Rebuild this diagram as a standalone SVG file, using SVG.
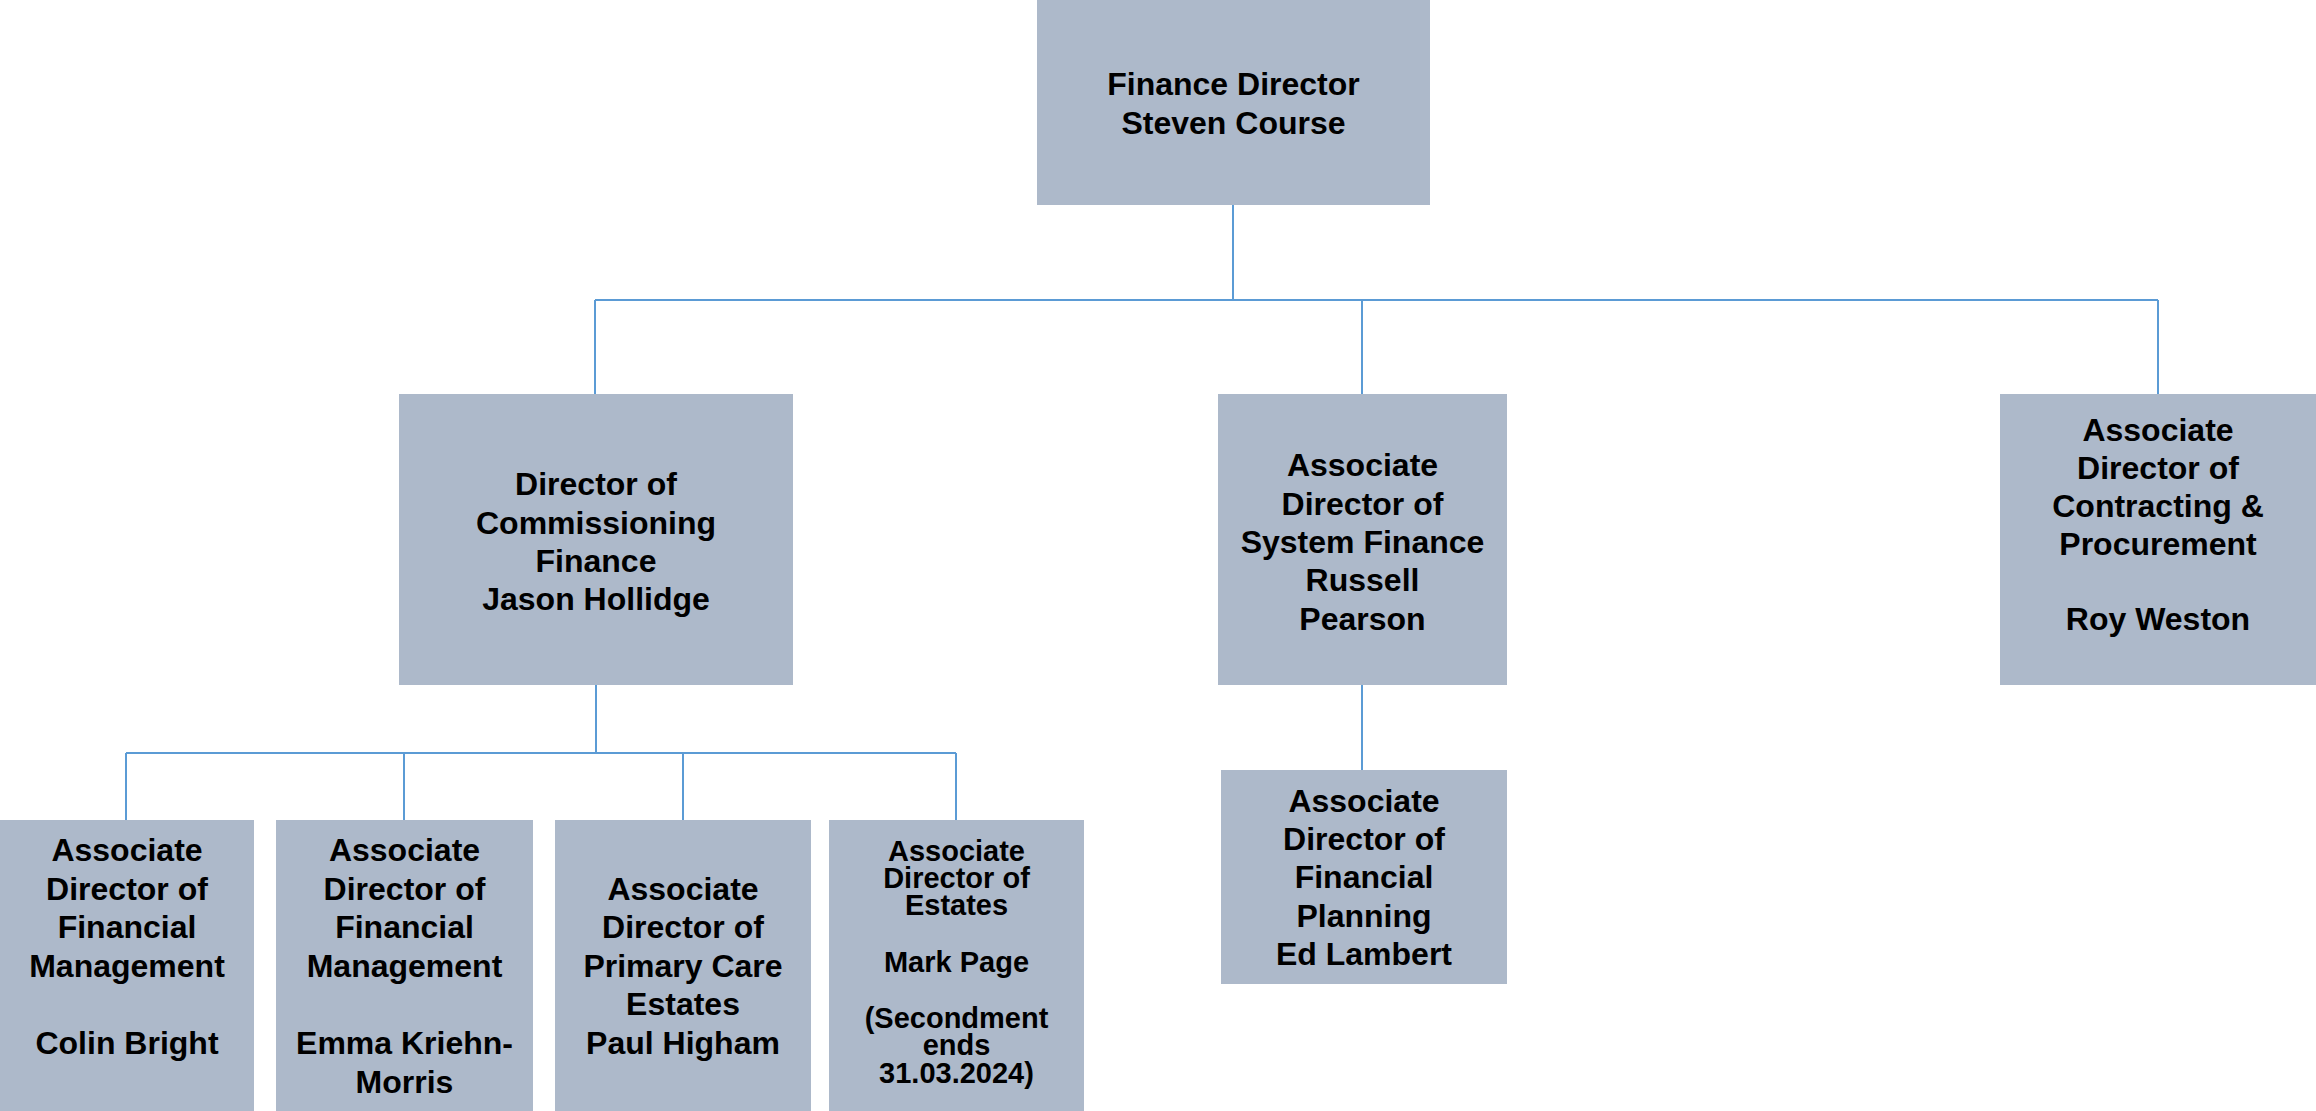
<svg xmlns="http://www.w3.org/2000/svg" width="2316" height="1111" viewBox="0 0 2316 1111">
<style>
.box{fill:#ADB9CA;}
.t{font-family:"Liberation Sans",Arial,sans-serif;font-weight:bold;font-size:32px;fill:#000;text-anchor:middle;}
.s{font-size:29px;}
.c{fill:none;stroke:#5B9BD5;stroke-width:2;}
</style>
<rect width="2316" height="1111" fill="#fff"/>
<g id="connectors">
<path class="c" d="M1233,205V300M595,300H2158M595,300V394M1362,300V394M2158,300V394"/>
<path class="c" d="M596,685V753M126,753H956M126,753V820M404,753V820M683,753V820M956,753V820"/>
<path class="c" d="M1362,685V770"/>
</g>
<g id="finance-director">
<rect class="box" x="1037" y="0" width="393" height="205"/>
<text class="t" x="1233.5" y="95">Finance Director</text>
<text class="t" x="1233.5" y="134">Steven Course</text>
</g>
<g id="commissioning-finance">
<rect class="box" x="399" y="394" width="394" height="291"/>
<text class="t" x="596" y="495">Director of</text>
<text class="t" x="596" y="534">Commissioning</text>
<text class="t" x="596" y="572">Finance</text>
<text class="t" x="596" y="610">Jason Hollidge</text>
</g>
<g id="system-finance">
<rect class="box" x="1218" y="394" width="289" height="291"/>
<text class="t" x="1362.5" y="476">Associate</text>
<text class="t" x="1362.5" y="515">Director of</text>
<text class="t" x="1362.5" y="553">System Finance</text>
<text class="t" x="1362.5" y="591">Russell</text>
<text class="t" x="1362.5" y="630">Pearson</text>
</g>
<g id="contracting">
<rect class="box" x="2000" y="394" width="316" height="291"/>
<text class="t" x="2158" y="441">Associate</text>
<text class="t" x="2158" y="479">Director of</text>
<text class="t" x="2158" y="517">Contracting &amp;</text>
<text class="t" x="2158" y="555">Procurement</text>
<text class="t" x="2158" y="630">Roy Weston</text>
</g>
<g id="financial-planning">
<rect class="box" x="1221" y="770" width="286" height="214"/>
<text class="t" x="1364" y="812">Associate</text>
<text class="t" x="1364" y="850">Director of</text>
<text class="t" x="1364" y="888">Financial</text>
<text class="t" x="1364" y="927">Planning</text>
<text class="t" x="1364" y="965">Ed Lambert</text>
</g>
<g id="colin-bright">
<rect class="box" x="0" y="820" width="254" height="291"/>
<text class="t" x="127" y="861">Associate</text>
<text class="t" x="127" y="899.5">Director of</text>
<text class="t" x="127" y="938">Financial</text>
<text class="t" x="127" y="976.5">Management</text>
<text class="t" x="127" y="1054">Colin Bright</text>
</g>
<g id="emma-kriehn-morris">
<rect class="box" x="276" y="820" width="257" height="291"/>
<text class="t" x="404.5" y="861">Associate</text>
<text class="t" x="404.5" y="899.5">Director of</text>
<text class="t" x="404.5" y="938">Financial</text>
<text class="t" x="404.5" y="976.5">Management</text>
<text class="t" x="404.5" y="1054">Emma Kriehn-</text>
<text class="t" x="404.5" y="1092.5">Morris</text>
</g>
<g id="paul-higham">
<rect class="box" x="555" y="820" width="256" height="291"/>
<text class="t" x="683" y="899.5">Associate</text>
<text class="t" x="683" y="938">Director of</text>
<text class="t" x="683" y="976.5">Primary Care</text>
<text class="t" x="683" y="1015">Estates</text>
<text class="t" x="683" y="1053.5">Paul Higham</text>
</g>
<g id="mark-page">
<rect class="box" x="829" y="820" width="255" height="291"/>
<text class="t s" x="956.5" y="861">Associate</text>
<text class="t s" x="956.5" y="888">Director of</text>
<text class="t s" x="956.5" y="915">Estates</text>
<text class="t s" x="956.5" y="972">Mark Page</text>
<text class="t s" x="956.5" y="1028">(Secondment</text>
<text class="t s" x="956.5" y="1055">ends</text>
<text class="t s" x="956.5" y="1083">31.03.2024)</text>
</g>
</svg>
